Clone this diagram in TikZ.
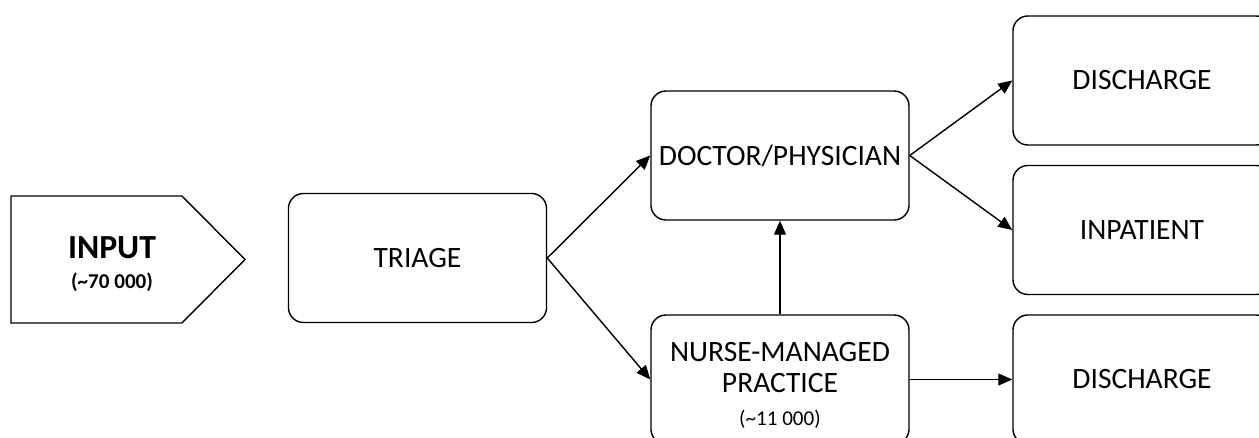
\documentclass[tikz,border=0pt]{standalone}
\usepackage{fontspec}
\setmainfont{Carlito}
\usetikzlibrary{arrows.meta}
\tikzset{stage/.style={draw,line width=1pt,rounded corners=0.375cm,minimum width=6.45cm,minimum height=3.225cm,align=center,font=\fontsize{21}{22}\selectfont},
         flow/.style={line width=1pt,-{Triangle[length=0.35cm,width=0.3cm]}}}

\begin{document}
\begin{tikzpicture}[x=0.025cm,y=-0.025cm]
        \useasboundingbox (0,0) rectangle (1259,438);
        \clip (0,0) rectangle (1259,438);

        % input arrow shape
        \draw[line width=1pt] (11,196) -- (182,196) -- (245,259.5) -- (182,323) -- (11,323) -- cycle;
        \node[font=\fontsize{24}{26}\selectfont\bfseries](input)at(112,248){INPUT};
        \node[font=\fontsize{15}{17}\selectfont\bfseries](inputcount)at(112,282){(\textasciitilde 70 000)};

        \node[stage](triage)at(417.5,258){TRIAGE};
        \node[stage](doctor)at(780,155.5){DOCTOR/PHYSICIAN};
        \node[stage](nurse)at(780,379.5){\rule{0pt}{22pt}NURSE-MANAGED\\PRACTICE\\[1pt]{\fontsize{15}{17}\selectfont (\textasciitilde 11 000)}};

        \node[stage](dis1)at(1142,80.5){DISCHARGE};
        \node[stage](inpat)at(1142,230){INPATIENT};
        \node[stage](dis2)at(1142,379.5){DISCHARGE};

        \draw[flow](triage.east)--(doctor.west);
        \draw[flow](triage.east)--(nurse.west);
        \draw[flow](nurse.north)--(doctor.south);
        \draw[flow](doctor.east)--(dis1.west);
        \draw[flow](doctor.east)--(inpat.west);
        \draw[flow](nurse.east)--(dis2.west);
    \end{tikzpicture}
\end{document}
